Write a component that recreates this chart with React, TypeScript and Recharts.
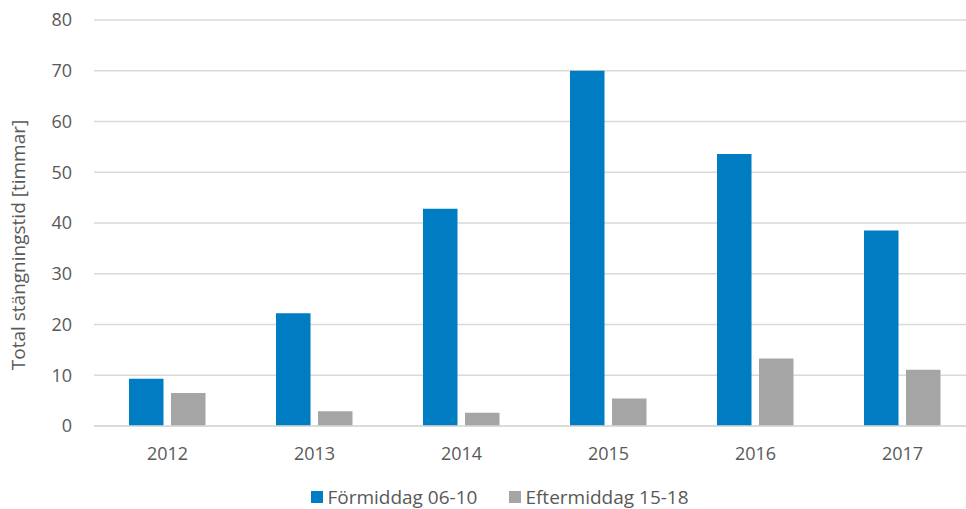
import { BarChart, Bar, XAxis, YAxis, CartesianGrid, Legend } from "recharts";

const years = ["2012", "2013", "2014", "2015", "2016", "2017"];
const morning = [9.3, 22.2, 42.8, 70.0, 53.6, 38.5];
const evening = [6.5, 2.9, 2.6, 5.4, 13.3, 11.1];
const yTicks = [0, 10, 20, 30, 40, 50, 60, 70, 80];

const MORNING_LABEL = "Förmiddag 06-10";
const EVENING_LABEL = "Eftermiddag 15-18";
const BLUE = "#007cc2";
const GRAY = "#a5a5a5";
const TEXT = "#595959";
const FONT = "'Open Sans', sans-serif";

const data = years.map((year, i) => ({
  year,
  morning: morning[i],
  evening: evening[i],
}));

function LegendBox() {
  const items = [
    { label: MORNING_LABEL, color: BLUE },
    { label: EVENING_LABEL, color: GRAY },
  ];
  return (
    <div
      style={{
        display: "flex",
        justifyContent: "center",
        gap: 32,
        fontFamily: FONT,
        fontSize: 19,
        color: TEXT,
        lineHeight: "24px",
        paddingLeft: 24,
      }}
    >
      {items.map((it) => (
        <div key={it.label} style={{ display: "flex", alignItems: "center", gap: 4 }}>
          <span style={{ width: 12, height: 12, background: it.color, display: "inline-block" }} />
          <span>{it.label}</span>
        </div>
      ))}
    </div>
  );
}

// the reference is cropped on the right, so the chart is drawn a bit wider and clipped
export default function App() {
  return (
    <div
      style={{
        position: "absolute",
        left: 0,
        top: 0,
        width: 966,
        height: 509,
        overflow: "hidden",
        background: "#fff",
      }}
    >
      <BarChart
        width={976}
        height={509}
        data={data}
        margin={{ top: 20, right: 0, left: 0, bottom: 0 }}
        barGap={7.5}
        barSize={34.5}
      >
        <CartesianGrid vertical={false} stroke="#d9d9d9" strokeWidth={1.5} />
        <XAxis
          dataKey="year"
          axisLine={{ stroke: "#d9d9d9", strokeWidth: 1.5 }}
          tickLine={false}
          tickMargin={15}
          height={59}
          tick={{ fill: TEXT, fontSize: 18, fontFamily: FONT }}
        />
        <YAxis
          width={94}
          domain={[0, 80]}
          ticks={yTicks}
          axisLine={false}
          tickLine={false}
          tickMargin={16}
          tick={{ fill: TEXT, fontSize: 18, fontFamily: FONT }}
          label={{
            content: () => (
              <text
                x={20}
                y={245}
                transform="rotate(-90 20 245)"
                textAnchor="middle"
                dominantBaseline="middle"
                fill={TEXT}
                fontSize={19}
                fontFamily={FONT}
              >
                Total stängningstid [timmar]
              </text>
            ),
          }}
        />
        <Legend verticalAlign="bottom" content={() => <LegendBox />} />
        <Bar dataKey="morning" name={MORNING_LABEL} fill={BLUE} isAnimationActive={false} />
        <Bar dataKey="evening" name={EVENING_LABEL} fill={GRAY} isAnimationActive={false} />
      </BarChart>
    </div>
  );
}
